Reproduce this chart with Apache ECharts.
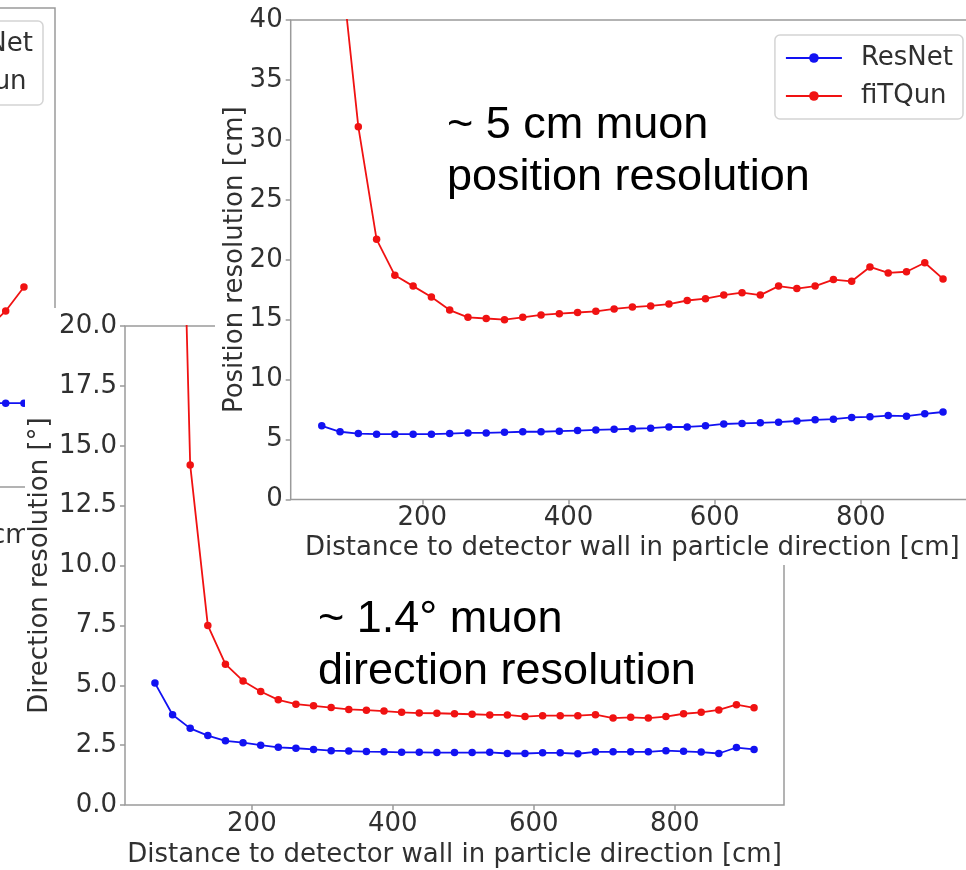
<!DOCTYPE html>
<html>
<head>
<meta charset="utf-8">
<script src="https://cdn.jsdelivr.net/npm/echarts@6/dist/echarts.min.js"></script>
<style>
  html, body { margin: 0; padding: 0; width: 966px; height: 870px; overflow: hidden; background: #fff; }
  body { position: relative; }
  .panel { position: absolute; background: #fff; }
  #back { left: -720px; top: 0; width: 790px; height: 600px; z-index: 1; }
  #dir  { left: 25px; top: 308px; width: 941px; height: 562px; z-index: 2; }
  #pos  { left: 215px; top: 0; width: 770px; height: 565px; z-index: 3; }
</style>
</head>
<body>
<div id="back" class="panel"></div>
<div id="dir" class="panel"></div>
<div id="pos" class="panel"></div>
<script>
// Distance to detector wall (bin centres, cm)
const distance = [62.5, 87.5, 112.5, 137.5, 162.5, 187.5, 212.5, 237.5, 262.5, 287.5,
  312.5, 337.5, 362.5, 387.5, 412.5, 437.5, 462.5, 487.5, 512.5, 537.5,
  562.5, 587.5, 612.5, 637.5, 662.5, 687.5, 712.5, 737.5, 762.5, 787.5,
  812.5, 837.5, 862.5, 887.5, 912.5];

// Muon position resolution [cm]
const posResNet = [6.15, 5.65, 5.5, 5.45, 5.45, 5.45, 5.45, 5.5, 5.55, 5.55,
  5.6, 5.65, 5.65, 5.7, 5.75, 5.8, 5.85, 5.9, 5.95, 6.05,
  6.05, 6.15, 6.3, 6.35, 6.4, 6.45, 6.55, 6.65, 6.7, 6.85,
  6.9, 7.0, 6.95, 7.15, 7.3];
const posFiTQun = [70, 45.5, 31.1, 21.7, 18.7, 17.8, 16.9, 15.8, 15.2, 15.1,
  15.0, 15.2, 15.4, 15.5, 15.6, 15.7, 15.9, 16.05, 16.15, 16.3,
  16.6, 16.75, 17.05, 17.25, 17.05, 17.8, 17.6, 17.8, 18.35, 18.2,
  19.4, 18.9, 19.0, 19.75, 18.4];

// Muon direction resolution [deg]
const dirResNet = [5.09, 3.77, 3.2, 2.9, 2.68, 2.6, 2.5, 2.41, 2.37, 2.32,
  2.27, 2.25, 2.23, 2.22, 2.2, 2.2, 2.19, 2.19, 2.19, 2.2,
  2.15, 2.15, 2.18, 2.18, 2.14, 2.22, 2.22, 2.22, 2.22, 2.27,
  2.24, 2.21, 2.15, 2.4, 2.32];
const dirFiTQun = [60, 43, 14.2, 7.5, 5.88, 5.18, 4.74, 4.39, 4.21, 4.14,
  4.07, 3.99, 3.96, 3.92, 3.87, 3.84, 3.83, 3.81, 3.79, 3.76,
  3.76, 3.69, 3.73, 3.73, 3.73, 3.77, 3.63, 3.66, 3.63, 3.69,
  3.81, 3.87, 3.97, 4.19, 4.06];

// Tail of the companion panel underneath (last bins only)
const backDistance = [862.5, 887.5, 912.5];
const backResNet = [7.0, 7.0, 7.0];
const backFiTQun = [13.2, 14.7, 16.7];

const xTicks = [200, 400, 600, 800];
const xTitle = 'Distance to detector wall in particle direction [cm]';
const seriesNames = ['ResNet', 'fiTQun'];

const BLUE = '#1212f2';
const RED = '#f01212';
const AXIS = '#9a9a9a';
const TEXT = '#303030';
const FONT = 'DejaVu Sans';

function pairs(xs, ys) { return xs.map((x, i) => [x, ys[i]]); }

function xAxisOpt(nameGap) {
  return {
    type: 'value', min: 20, max: 955,
    name: xTitle, nameLocation: 'middle', nameGap: nameGap, nameMoveOverlap: false,
    nameTextStyle: { fontFamily: FONT, fontSize: 26, color: TEXT },
    axisLine: { show: false },
    axisTick: { show: true, length: 5, customValues: xTicks, lineStyle: { color: AXIS, width: 1.5 } },
    axisLabel: { customValues: xTicks, fontFamily: FONT, fontSize: 26, color: TEXT, margin: 6 },
    splitLine: { show: false }
  };
}

function yAxisOpt(max, interval, name, nameGap, fmt) {
  return {
    type: 'value', min: 0, max: max, interval: interval,
    name: name, nameLocation: 'middle', nameGap: nameGap, nameMoveOverlap: false,
    nameTextStyle: { fontFamily: FONT, fontSize: 26, color: TEXT },
    axisLine: { show: false },
    axisTick: { show: true, length: 5, lineStyle: { color: AXIS, width: 1.5 } },
    axisLabel: { fontFamily: FONT, fontSize: 26, color: TEXT, margin: 8, formatter: fmt },
    splitLine: { show: false }
  };
}

function lineSeries(name, color, data) {
  return {
    name: name, type: 'line', data: data, clip: true,
    symbol: 'circle', symbolSize: 7.5, showSymbol: true,
    lineStyle: { color: color, width: 1.8 },
    itemStyle: { color: color },
    emphasis: { disabled: true },
    animation: false
  };
}

function legendOpt(pos) {
  return Object.assign({
    data: seriesNames, orient: 'vertical',
    padding: [10, 10, 10, 10], itemGap: 12,
    itemWidth: 56, itemHeight: 12,
    borderColor: '#d4d4d4', borderWidth: 1.5, borderRadius: 5,
    backgroundColor: '#fff',
    textStyle: { fontFamily: FONT, fontSize: 26, color: TEXT, padding: [0, 0, 0, 14] },
    selectedMode: false
  }, pos);
}

function gridOpt(left, top, width, height) {
  return { left: left, top: top, width: width, height: height,
    containLabel: false, outerBoundsMode: 'none',
    show: true, borderColor: AXIS, borderWidth: 1.5, backgroundColor: 'transparent' };
}

// Companion panel partly hidden on the left
const back = echarts.init(document.getElementById('back'), null, { renderer: 'canvas' });
back.setOption({
  animation: false,
  grid: gridOpt(92, 8, 683, 479),
  legend: legendOpt({ right: 27, top: 21 }),
  xAxis: xAxisOpt(36),
  yAxis: yAxisOpt(40, 5, '', 42, v => v),
  series: [
    lineSeries('ResNet', BLUE, pairs(backDistance, backResNet)),
    lineSeries('fiTQun', RED, pairs(backDistance, backFiTQun))
  ]
});

// Direction resolution panel
const dir = echarts.init(document.getElementById('dir'), null, { renderer: 'canvas' });
dir.setOption({
  animation: false,
  grid: gridOpt(100, 18, 659, 479),
  xAxis: xAxisOpt(37),
  yAxis: yAxisOpt(20, 2.5, 'Direction resolution [°]', 72, v => v.toFixed(1)),
  series: [
    lineSeries('ResNet', BLUE, pairs(distance, dirResNet)),
    lineSeries('fiTQun', RED, pairs(distance, dirFiTQun))
  ],
  graphic: [{
    type: 'text', left: 293, top: 286, silent: true,
    style: { text: '~ 1.4° muon\ndirection resolution', font: '45px "Liberation Sans"',
      fill: '#000', lineHeight: 52 }
  }]
});

// Position resolution panel
const pos = echarts.init(document.getElementById('pos'), null, { renderer: 'canvas' });
pos.setOption({
  animation: false,
  grid: gridOpt(75.7, 20, 683.4, 479.5),
  legend: legendOpt({ right: 22, top: 35 }),
  xAxis: xAxisOpt(36),
  yAxis: yAxisOpt(40, 5, 'Position resolution [cm]', 42, v => v),
  series: [
    lineSeries('ResNet', BLUE, pairs(distance, posResNet)),
    lineSeries('fiTQun', RED, pairs(distance, posFiTQun))
  ],
  graphic: [{
    type: 'text', left: 232, top: 100, silent: true,
    style: { text: '~ 5 cm muon\nposition resolution', font: '45px "Liberation Sans"',
      fill: '#000', lineHeight: 52 }
  }]
});
</script>
</body>
</html>
